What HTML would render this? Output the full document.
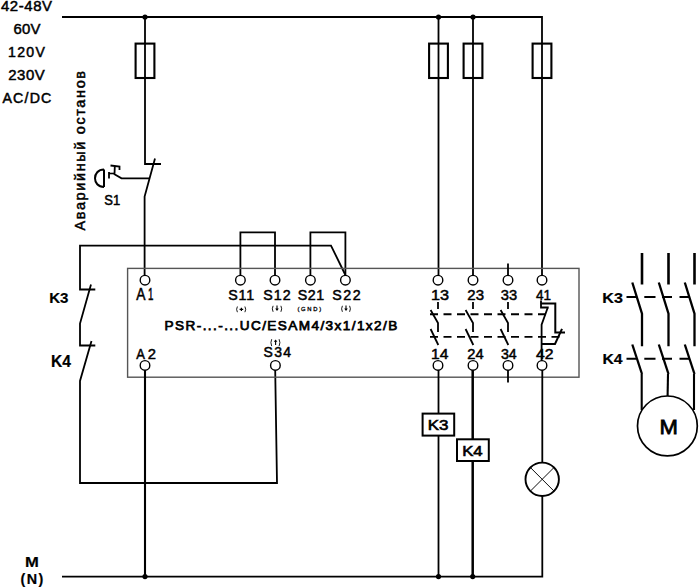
<!DOCTYPE html>
<html><head><meta charset="utf-8"><style>
html,body{margin:0;padding:0;background:#fff;overflow:hidden;}
svg{display:block;}
text{font-family:"Liberation Sans",sans-serif;fill:#000;}
</style></head><body>
<svg width="700" height="588" viewBox="0 0 700 588">
<rect width="700" height="588" fill="#fff"/>
<path d="M62,17 L542,17 L542,276" stroke="#000" stroke-width="1.8" fill="none" />
<circle cx="145" cy="17" r="2.6" fill="#000"/>
<circle cx="438.5" cy="17" r="2.6" fill="#000"/>
<circle cx="473" cy="17" r="2.6" fill="#000"/>
<path d="M145,17 L145,164 L161,164" stroke="#000" stroke-width="1.8" fill="none" />
<path d="M438.5,17 L438.5,276" stroke="#000" stroke-width="1.8" fill="none" />
<path d="M473,17 L473,276" stroke="#000" stroke-width="1.8" fill="none" />
<rect x="135.6" y="43.6" width="18.8" height="34.4" stroke="#000" stroke-width="2.1" fill="none"/>
<rect x="429.1" y="43.6" width="18.8" height="34.4" stroke="#000" stroke-width="2.1" fill="none"/>
<rect x="463.6" y="43.6" width="18.8" height="34.4" stroke="#000" stroke-width="2.1" fill="none"/>
<rect x="532.6" y="43.6" width="18.8" height="34.4" stroke="#000" stroke-width="2.1" fill="none"/>
<path d="M155,158.5 L144.6,196.5 L144.6,276" stroke="#000" stroke-width="1.8" fill="none" />
<path d="M149.5,178.4 L121.5,178.4 L114.5,174.3 L114.8,166.5" stroke="#000" stroke-width="1.8" fill="none" />
<path d="M110.5,165.5 L119.5,166.5 L119.5,170" stroke="#000" stroke-width="1.8" fill="none" />
<path d="M109,172 L109,178.5" stroke="#000" stroke-width="1.8" fill="none" />
<path d="M109,173.5 L115,173.5" stroke="#000" stroke-width="1.6" fill="none" />
<path d="M104,169.5 L104,187 M104,169.5 C92,169.5 92,187 104,187" stroke="#000" stroke-width="2" fill="none"/>
<path d="M345.4,275 L331,245.6 L80,245.6 L80,289.5 L95.3,289.5" stroke="#000" stroke-width="1.8" fill="none" />
<path d="M91,284.5 L80,323.5 L80,345.5 L95.3,345.5" stroke="#000" stroke-width="1.8" fill="none" />
<path d="M91.5,341 L80,381 L80,483 L277,483 L275.2,370" stroke="#000" stroke-width="1.8" fill="none" />
<path d="M240.4,275 L240.4,232.4 L275,232.4 L275,275" stroke="#000" stroke-width="1.8" fill="none" />
<path d="M310.4,275 L310.4,232.4 L345.4,232.4 L345.4,275" stroke="#000" stroke-width="1.8" fill="none" />
<rect x="127.6" y="268.4" width="451.4" height="108.8" stroke="#555" stroke-width="1.4" fill="none"/>
<path d="M508,263.5 L508,276" stroke="#000" stroke-width="1.8" fill="none" />
<path d="M508,370 L508,382.5" stroke="#000" stroke-width="1.8" fill="none" />
<path d="M145,370 L145,576.6" stroke="#000" stroke-width="2.1" fill="none" />
<path d="M438.5,370 L438.5,576.6" stroke="#000" stroke-width="1.8" fill="none" />
<path d="M472.7,370 L472.7,576.6" stroke="#000" stroke-width="2.5" fill="none" />
<path d="M62,576.6 L542.3,576.6 L542.3,370" stroke="#000" stroke-width="1.8" fill="none" />
<circle cx="145" cy="576.6" r="2.6" fill="#000"/>
<circle cx="438.5" cy="576.6" r="2.6" fill="#000"/>
<circle cx="472.7" cy="576.6" r="2.6" fill="#000"/>
<circle cx="145" cy="280.2" r="4.8" stroke="#000" stroke-width="1.4" fill="#fff"/>
<circle cx="240.4" cy="280.2" r="4.8" stroke="#000" stroke-width="1.4" fill="#fff"/>
<circle cx="275" cy="280.2" r="4.8" stroke="#000" stroke-width="1.4" fill="#fff"/>
<circle cx="310.4" cy="280.2" r="4.8" stroke="#000" stroke-width="1.4" fill="#fff"/>
<circle cx="345.4" cy="280.2" r="4.8" stroke="#000" stroke-width="1.4" fill="#fff"/>
<circle cx="438" cy="280.2" r="4.8" stroke="#000" stroke-width="1.4" fill="#fff"/>
<circle cx="473" cy="280.2" r="4.8" stroke="#000" stroke-width="1.4" fill="#fff"/>
<circle cx="508" cy="280.2" r="4.8" stroke="#000" stroke-width="1.4" fill="#fff"/>
<circle cx="542" cy="280.2" r="4.8" stroke="#000" stroke-width="1.4" fill="#fff"/>
<circle cx="145" cy="365.4" r="4.8" stroke="#000" stroke-width="1.4" fill="#fff"/>
<circle cx="275.4" cy="365.4" r="4.8" stroke="#000" stroke-width="1.4" fill="#fff"/>
<circle cx="438" cy="365.4" r="4.8" stroke="#000" stroke-width="1.4" fill="#fff"/>
<circle cx="473" cy="365.4" r="4.8" stroke="#000" stroke-width="1.4" fill="#fff"/>
<circle cx="508" cy="365.4" r="4.8" stroke="#000" stroke-width="1.4" fill="#fff"/>
<circle cx="542" cy="365.4" r="4.8" stroke="#000" stroke-width="1.4" fill="#fff"/>
<rect x="422.6" y="413.6" width="31.6" height="22" stroke="#000" stroke-width="2" fill="#fff"/>
<rect x="457" y="439.3" width="31.8" height="21.7" stroke="#000" stroke-width="2" fill="#fff"/>
<circle cx="542.2" cy="479.3" r="16.7" stroke="#000" stroke-width="1.9" fill="#fff"/>
<path d="M530.4000000000001,467.5 L554.0,491.1" stroke="#000" stroke-width="0.95" fill="none" />
<path d="M530.4000000000001,491.1 L554.0,467.5" stroke="#000" stroke-width="0.95" fill="none" />
<path d="M642,253 L642,284.5" stroke="#000" stroke-width="2.6" fill="none" />
<path d="M632.3,282.5 L642,313.7 L642,346.2" stroke="#000" stroke-width="2.3" fill="none" />
<path d="M632.3,344.5 L642,374" stroke="#000" stroke-width="2.3" fill="none" />
<path d="M668.5,253 L668.5,284.5" stroke="#000" stroke-width="2.6" fill="none" />
<path d="M658.8,282.5 L668.5,313.7 L668.5,346.2" stroke="#000" stroke-width="2.3" fill="none" />
<path d="M658.8,344.5 L668.5,374" stroke="#000" stroke-width="2.3" fill="none" />
<path d="M694.5,253 L694.5,284.5" stroke="#000" stroke-width="2.6" fill="none" />
<path d="M684.8,282.5 L694.5,313.7 L694.5,346.2" stroke="#000" stroke-width="2.3" fill="none" />
<path d="M684.8,344.5 L694.5,374" stroke="#000" stroke-width="2.3" fill="none" />
<path d="M641.7,374 L641.7,410" stroke="#000" stroke-width="2.1" fill="none" />
<path d="M668,374 L667.6,396" stroke="#000" stroke-width="2.1" fill="none" />
<path d="M694,374 L694,410" stroke="#000" stroke-width="2.1" fill="none" />
<path d="M626.5,297 H636 M644.3,297 H655.5 M662,297 H672 M679.5,297 H689" stroke="#000" stroke-width="2.1"/>
<path d="M626.5,358.7 H636 M644.3,358.7 H655.5 M662,358.7 H672 M679.5,358.7 H689" stroke="#000" stroke-width="2.1"/>
<circle cx="667.4" cy="425.9" r="29.9" stroke="#000" stroke-width="1.7" fill="#fff"/>
<path d="M438,302 L438,309" stroke="#000" stroke-width="1.8" fill="none" />
<path d="M430.6,310 L438,323 L438,332" stroke="#000" stroke-width="1.8" fill="none" />
<path d="M430.6,329 L438.3,345" stroke="#000" stroke-width="1.8" fill="none" />
<path d="M473,302 L473,309" stroke="#000" stroke-width="1.8" fill="none" />
<path d="M465.6,310 L473,323 L473,332" stroke="#000" stroke-width="1.8" fill="none" />
<path d="M465.6,329 L473.3,345" stroke="#000" stroke-width="1.8" fill="none" />
<path d="M508,302 L508,309" stroke="#000" stroke-width="1.8" fill="none" />
<path d="M500.6,310 L508,323 L508,332" stroke="#000" stroke-width="1.8" fill="none" />
<path d="M500.6,329 L508.3,345" stroke="#000" stroke-width="1.8" fill="none" />
<path d="M430,314.3 H546" stroke="#000" stroke-width="1.9" stroke-dasharray="8 5.5"/>
<path d="M430,336.9 H559.5" stroke="#000" stroke-width="1.9" stroke-dasharray="8 5.5"/>
<path d="M541,300.5 L541,307.5 L548.7,307.5" stroke="#000" stroke-width="1.8" fill="none" />
<path d="M547.6,308 L541.6,324.6 L541.6,361" stroke="#000" stroke-width="1.8" fill="none" />
<path d="M540.8,303.4 L555.3,303.4 L555.3,332.4 L565,332.4" stroke="#000" stroke-width="2" fill="none" />
<path d="M562,328.8 L555,344 L541.3,344" stroke="#000" stroke-width="2" fill="none" />
<text font-size="14.93" font-weight="normal" stroke="#000" stroke-width="0.5" letter-spacing="0.59" transform="translate(0.95,10.60) scale(1.000,1)" >42-48V</text>
<text font-size="14.93" font-weight="normal" stroke="#000" stroke-width="0.5" letter-spacing="0.21" transform="translate(13.45,33.90) scale(1.000,1)" >60V</text>
<text font-size="14.08" font-weight="normal" stroke="#000" stroke-width="0.5" letter-spacing="1.30" transform="translate(8.02,57.21) scale(1.000,1)" >120V</text>
<text font-size="14.93" font-weight="normal" stroke="#000" stroke-width="0.5" letter-spacing="0.59" transform="translate(8.20,80.10) scale(1.000,1)" >230V</text>
<text font-size="14.19" font-weight="normal" stroke="#000" stroke-width="0.5" letter-spacing="1.18" transform="translate(2.45,102.91) scale(1.000,1)" >AC/DC</text>
<text font-size="14.43" stroke="#000" stroke-width="0.5" letter-spacing="1.66" transform="translate(84.95,230.55) rotate(-90)">Аварийный останов</text>
<text font-size="14.37" font-weight="normal" stroke="#000" stroke-width="0.5" transform="translate(104.20,204.71) scale(0.907,1)" >S1</text>
<text font-size="15.49" font-weight="bold" stroke="#000" stroke-width="0.2" transform="translate(49.14,303.05) scale(0.976,1)" >K3</text>
<text font-size="15.94" font-weight="bold" stroke="#000" stroke-width="0.2" transform="translate(50.91,366.50) scale(0.978,1)" >K4</text>
<text font-size="15.80" font-weight="normal" stroke="#000" stroke-width="0.5" transform="translate(136.35,300.25) scale(0.873,1)" >A</text>
<text font-size="15.80" font-weight="normal" stroke="#000" stroke-width="0.5" transform="translate(147.97,300.25) scale(0.618,1)" >1</text>
<text font-size="14.78" font-weight="normal" stroke="#000" stroke-width="0.5" transform="translate(136.35,358.75) scale(0.881,1)" >A</text>
<text font-size="14.57" font-weight="normal" stroke="#000" stroke-width="0.5" transform="translate(147.71,358.75) scale(1.014,1)" >2</text>
<text font-size="14.23" font-weight="normal" stroke="#000" stroke-width="0.5" letter-spacing="0.85" transform="translate(228.24,299.91) scale(1.000,1)" >S11</text>
<text font-size="14.23" font-weight="normal" stroke="#000" stroke-width="0.5" letter-spacing="1.10" transform="translate(263.24,299.91) scale(1.000,1)" >S12</text>
<text font-size="14.23" font-weight="normal" stroke="#000" stroke-width="0.5" letter-spacing="0.60" transform="translate(297.74,299.91) scale(1.000,1)" >S21</text>
<text font-size="14.23" font-weight="normal" stroke="#000" stroke-width="0.5" letter-spacing="1.60" transform="translate(332.24,299.91) scale(1.000,1)" >S22</text>
<path d="M237.4,306.5 Q235.8,309.35 237.4,312.2 M244.9,306.5 Q246.5,309.35 244.9,312.2" stroke="#000" stroke-width="0.9" fill="none"/>
<path d="M239.6,309.4 H243.2 M241.4,307.8 V311" stroke="#000" stroke-width="1.2"/>
<path d="M273.1,305.8 Q271.5,308.8 273.1,311.8 M280.9,305.8 Q282.5,308.8 280.9,311.8" stroke="#000" stroke-width="0.9" fill="none"/>
<path d="M277,305.6 V309.4" stroke="#000" stroke-width="1.1"/><path d="M275.2,308.5 L278.8,308.5 L277,310.9 Z" fill="#000"/>
<path d="M342.40000000000003,305.8 Q340.8,308.8 342.40000000000003,311.8 M349.59999999999997,305.8 Q351.2,308.8 349.59999999999997,311.8" stroke="#000" stroke-width="0.9" fill="none"/>
<path d="M346,305.6 V309.4" stroke="#000" stroke-width="1.1"/><path d="M344.2,308.5 L347.8,308.5 L346,310.9 Z" fill="#000"/>
<path d="M271.70000000000005,339.2 Q270.1,342.65 271.70000000000005,346.1 M279.09999999999997,339.2 Q280.7,342.65 279.09999999999997,346.1" stroke="#000" stroke-width="0.9" fill="none"/>
<path d="M275.6,340.9 V345" stroke="#000" stroke-width="1.1"/><path d="M273.8,341.79999999999995 L277.40000000000003,341.79999999999995 L275.6,339.4 Z" fill="#000"/>
<text font-size="5.85" font-weight="normal" stroke="#000" stroke-width="0.3" letter-spacing="1.70" transform="translate(297.40,310.52) scale(1.000,1)" >(GND)</text>
<text font-size="13.58" font-weight="normal" stroke="#000" stroke-width="0.75" letter-spacing="1.41" transform="translate(164.59,330.49) scale(1.000,1)" >PSR-...-...UC/ESAM4/3x1/1x2/B</text>
<text font-size="13.94" font-weight="normal" stroke="#000" stroke-width="0.5" letter-spacing="1.40" transform="translate(263.45,357.11) scale(1.000,1)" >S34</text>
<text font-size="15.07" font-weight="normal" stroke="#000" stroke-width="0.5" transform="translate(431.05,300.30) scale(1.079,1)" >13</text>
<text font-size="15.07" font-weight="normal" stroke="#000" stroke-width="0.5" transform="translate(467.30,300.30) scale(0.995,1)" >23</text>
<text font-size="15.07" font-weight="normal" stroke="#000" stroke-width="0.5" transform="translate(500.86,300.30) scale(0.973,1)" >33</text>
<text font-size="15.51" font-weight="normal" stroke="#000" stroke-width="0.5" transform="translate(535.98,300.45) scale(0.874,1)" >41</text>
<text font-size="14.64" font-weight="normal" stroke="#000" stroke-width="0.5" transform="translate(431.10,358.85) scale(1.066,1)" >14</text>
<text font-size="14.43" font-weight="normal" stroke="#000" stroke-width="0.5" transform="translate(467.32,358.85) scale(1.016,1)" >24</text>
<text font-size="14.23" font-weight="normal" stroke="#000" stroke-width="0.5" transform="translate(500.88,358.71) scale(0.994,1)" >34</text>
<text font-size="14.43" font-weight="normal" stroke="#000" stroke-width="0.5" transform="translate(535.93,358.85) scale(1.093,1)" >42</text>
<text font-size="14.37" font-weight="normal" stroke="#000" stroke-width="0.6" transform="translate(427.74,429.86) scale(1.183,1)" >K3</text>
<text font-size="14.49" font-weight="normal" stroke="#000" stroke-width="0.6" transform="translate(462.16,455.50) scale(1.156,1)" >K4</text>
<text font-size="13.94" font-weight="bold" stroke="#000" stroke-width="0.2" transform="translate(602.37,302.76) scale(1.159,1)" >K3</text>
<text font-size="14.06" font-weight="bold" stroke="#000" stroke-width="0.2" transform="translate(602.40,364.20) scale(1.120,1)" >K4</text>
<text font-size="20.87" font-weight="normal" stroke="#000" stroke-width="0.8" transform="translate(659.43,434.30) scale(1.058,1)" >M</text>
<text font-size="15.51" font-weight="bold" stroke="#000" stroke-width="0.2" transform="translate(24.94,567.30) scale(1.069,1)" >M</text>
<text font-size="14.36" font-weight="bold" stroke="#000" stroke-width="0.2" letter-spacing="1.44" transform="translate(20.48,583.58) scale(1.000,1)" >(N)</text>
</svg>
</body></html>
